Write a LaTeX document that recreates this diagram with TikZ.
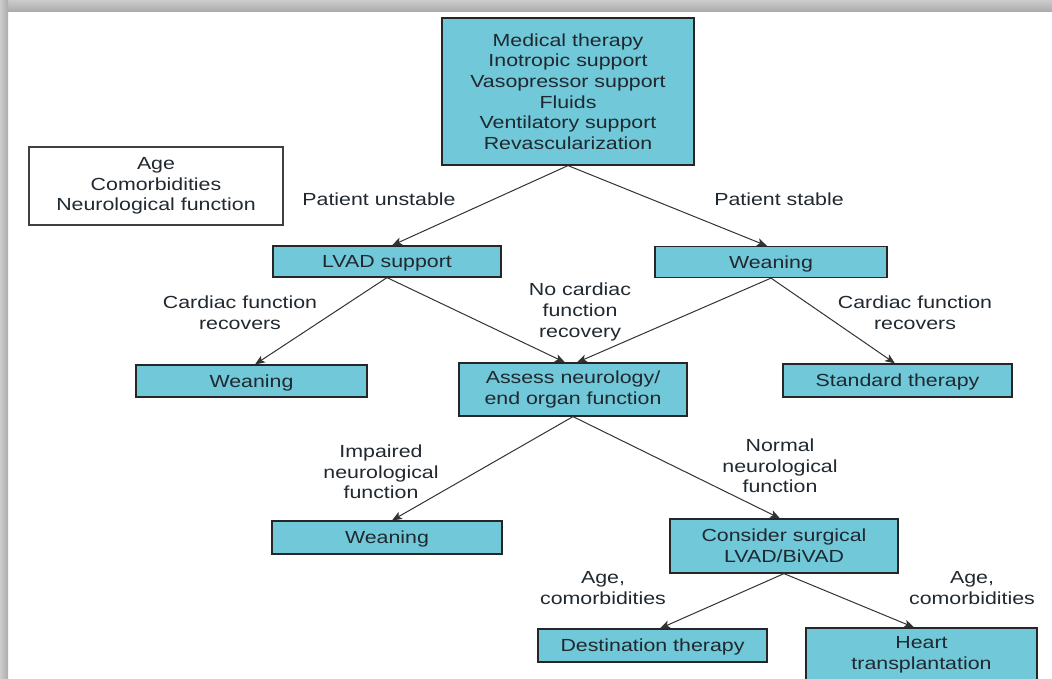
\documentclass[tikz,border=0pt]{standalone}
\usepackage{fontspec}
\setmainfont[FakeStretch=1.22]{Liberation Sans}
\usetikzlibrary{arrows.meta}
\definecolor{boxfill}{RGB}{112,200,216}
\definecolor{txt}{RGB}{32,40,48}
\tikzset{
  bx/.style={draw=black!85, line width=1.2pt, fill=boxfill, align=center, inner sep=0pt,
     font=\fontsize{17.5}{20.7}\selectfont, text=txt},
  one/.style={text height=12.5pt, text depth=0pt},
  whitebox/.style={draw=black!75, line width=1.1pt, fill=white, align=center, inner sep=0pt,
     font=\fontsize{17.5}{20.7}\selectfont, text=txt},
  lbl/.style={align=center, inner sep=0pt, font=\fontsize{17.5}{20.7}\selectfont, text=txt},
  arr/.style={draw=black!80, line width=1pt, -{Stealth[length=10pt,width=8pt,inset=2.5pt]}}
}
\begin{document}
\begin{tikzpicture}[x=1pt,y=-1pt]
\useasboundingbox (0,0) rectangle (1052,678);
\fill[white] (0,0) rectangle (1052,678);
% page shadow
\shade[top color=gray!40, bottom color=gray!65] (0,0) rectangle (1052,11);
\shade[left color=gray!40, right color=gray!65] (0,0) rectangle (8,678);

\node[bx, minimum width=252pt, minimum height=147pt] (top) at (568,91.5)
  {Medical therapy\\Inotropic support\\Vasopressor support\\Fluids\\Ventilatory support\\Revascularization};
\node[whitebox, minimum width=254pt, minimum height=78pt] (age) at (156,186)
  {Age\\Comorbidities\\Neurological function};

\node[bx, one, minimum width=228pt, minimum height=31pt] (lvad) at (387,261.5) {LVAD support};
\node[bx, one, minimum width=232pt, minimum height=31pt] (weanR) at (771,262) {Weaning};
\node[bx, one, minimum width=231pt, minimum height=32pt] (weanL) at (251.5,381) {Weaning};
\node[bx, minimum width=228pt, minimum height=53pt] (assess) at (573,389.5) {Assess neurology/\\end organ function};
\node[bx, one, minimum width=229pt, minimum height=33pt] (std) at (897.5,380.5) {Standard therapy};
\node[bx, one, minimum width=230pt, minimum height=33pt] (weanB) at (387,537.5) {Weaning};
\node[bx, minimum width=228pt, minimum height=54pt] (consider) at (784,546) {Consider surgical\\LVAD/BiVAD};
\node[bx, one, minimum width=229pt, minimum height=33pt] (dest) at (652.5,645.5) {Destination therapy};
\node[bx, minimum width=231pt, minimum height=54pt] (heart) at (921.5,655) {Heart\\transplantation};

\node[lbl] (l1) at (379,199) {Patient unstable};
\node[lbl] (l2) at (779,199) {Patient stable};
\node[lbl] (l3) at (240,312.5) {Cardiac function\\recovers};
\node[lbl] (l4) at (580,312) {No cardiac\\function\\recovery};
\node[lbl] (l5) at (915,312.5) {Cardiac function\\recovers};
\node[lbl] (l6) at (381,472) {Impaired\\neurological\\function};
\node[lbl] (l7) at (780,466) {Normal\\neurological\\function};
\node[lbl] (l8) at (603,588) {Age,\\comorbidities};
\node[lbl] (l9) at (972,588) {Age,\\comorbidities};

\draw[arr] (top.south) -- ([xshift=5pt]lvad.north);
\draw[arr] (top.south) -- ([xshift=-4pt]weanR.north);
\draw[arr] (lvad.south) -- ([xshift=3.5pt]weanL.north);
\draw[arr] (lvad.south) -- ([xshift=-8pt]assess.north);
\draw[arr] (weanR.south) -- ([xshift=4pt]assess.north);
\draw[arr] (weanR.south) -- ([xshift=-2.5pt]std.north);
\draw[arr] (assess.south) -- ([xshift=5pt]weanB.north);
\draw[arr] (assess.south) -- ([xshift=-4pt]consider.north);
\draw[arr] (consider.south) -- ([xshift=7.5pt]dest.north);
\draw[arr] (consider.south) -- ([xshift=-7.5pt]heart.north);
\end{tikzpicture}
\end{document}
